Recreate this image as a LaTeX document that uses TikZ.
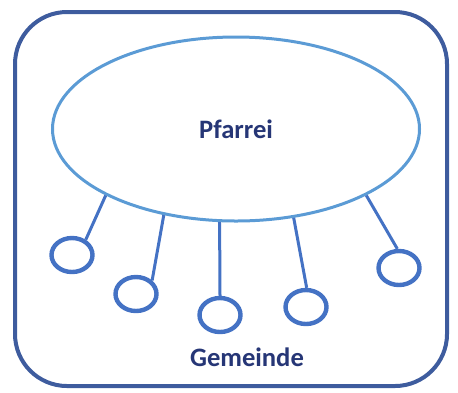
\documentclass[tikz,border=0pt]{standalone}
\usepackage{fontspec}
\setmainfont{Carlito}
\definecolor{frameBlue}{RGB}{62, 92, 158}
\definecolor{parishBlue}{RGB}{91, 155, 213}
\definecolor{linkBlue}{RGB}{68, 114, 196}
\definecolor{textNavy}{RGB}{38, 54, 118}
\usetikzlibrary{shapes}

\begin{document}
\begin{tikzpicture}[x=0.5pt, y=-0.5pt, thick,
    gemeinde/.style={ellipse, draw=linkBlue, line width=2.2pt, minimum width=20.5pt, minimum height=17pt, inner sep=0pt},
    link/.style={linkBlue, line width=1.5pt},
    label/.style={font=\fontsize{13.3}{16}\selectfont\bfseries, text=textNavy}]
    \useasboundingbox (0,0) rectangle (458,392);

    \draw[frameBlue, line width=2pt, rounded corners=26pt] (15,12) rectangle (447,386);

    \node[ellipse, draw=parishBlue, line width=1.5pt, minimum width=183.5pt, minimum height=92pt, inner sep=0pt, label] (pfarrei) at (236,129) {Pfarrei};

    \node[gemeinde] (g1) at (72,255) {};
    \node[gemeinde] (g2) at (136,294) {};
    \node[gemeinde] (g3) at (220,315) {};
    \node[gemeinde] (g4) at (306,307) {};
    \node[gemeinde] (g5) at (399,268) {};

    \node[label] (gem) at (247,357) {Gemeinde};

    \draw[link] (g1.48) -- (pfarrei.207);
    \draw[link] (g2.40) -- (pfarrei.230);
    \draw[link] (g3.90) -- (pfarrei.260);
    \draw[link] (g4.88) -- (pfarrei.303);
    \draw[link] (g5.95) -- (pfarrei.333);
\end{tikzpicture}
\end{document}
